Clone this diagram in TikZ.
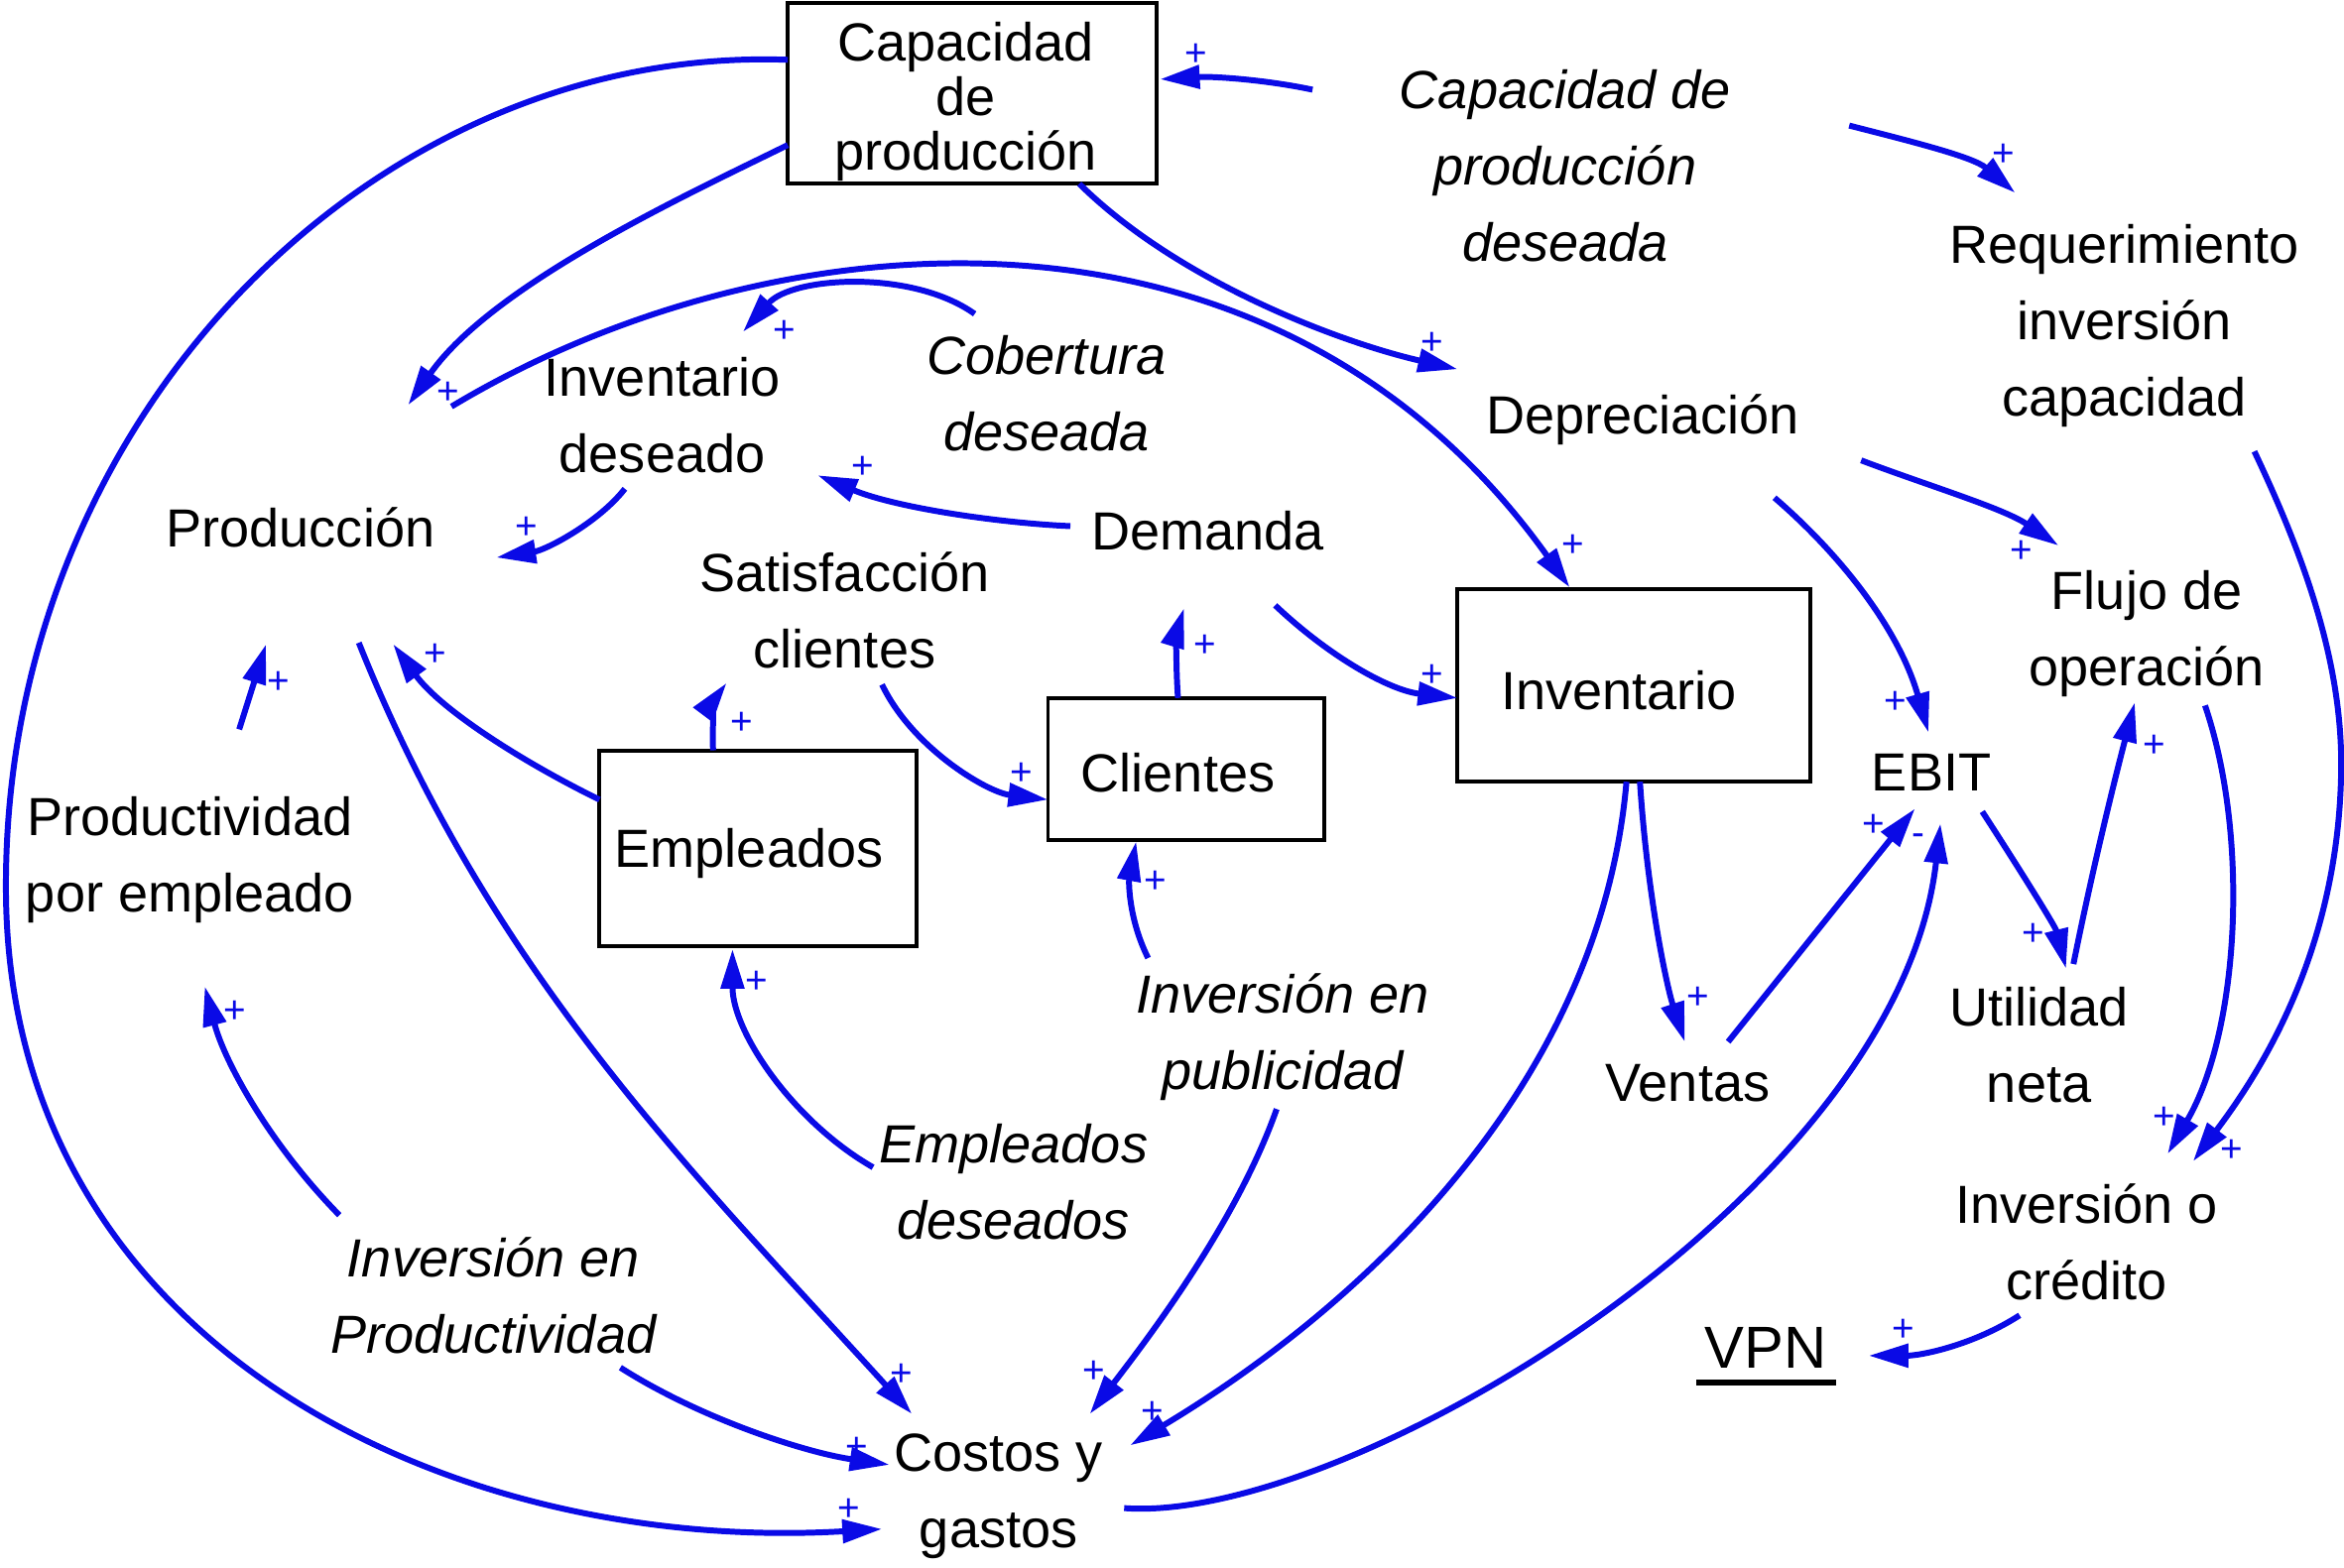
\documentclass[tikz,border=0pt]{standalone}
\usepackage{fontspec}
\setmainfont{Liberation Sans}
\usetikzlibrary{arrows.meta}
\definecolor{lk}{RGB}{10,10,230}
\begin{document}
\begin{tikzpicture}[x=0.01507cm,y=-0.01507cm,
  lbl/.style={font=\fontsize{15.4}{21.9}\selectfont, align=center, inner sep=0pt},
  ilbl/.style={font=\fontsize{15.4}{21.9}\selectfont\itshape, align=center, inner sep=0pt},
  btxt/.style={font=\fontsize{15.4}{15.6}\selectfont, align=center, inner sep=0pt},
  stock/.style={draw, line width=1.1pt, inner sep=0pt},
  link/.style={draw=lk, line width=1.7pt, -{Triangle[length=0.40cm,width=0.23cm]}},
  pol/.style={text=lk, font=\fontsize{11}{11}\selectfont, inner sep=0pt},
]
\useasboundingbox (0,0) rectangle (1568,1049);
% stocks
\node[stock, minimum width=3.722cm, minimum height=1.823cm] (capbox) at (650.5,62.5) {};
\node[btxt] (captxt) at (646,68) {Capacidad\\de\\producción};
\node[stock, minimum width=3.557cm, minimum height=1.944cm] (invbox) at (1093,458.5) {};
\node[btxt] (invtxt) at (1083,462) {Inventario};
\node[stock, minimum width=2.788cm, minimum height=1.432cm] (clibox) at (793.5,514.5) {};
\node[btxt] (clitxt) at (788,517) {Clientes};
\node[stock, minimum width=3.195cm, minimum height=1.974cm] (empbox) at (507,567.5) {};
\node[btxt] (emptxt) at (501,571) {Empleados};
% variables
\node[ilbl] (capdes) at (1047,111) {Capacidad de\\producción\\deseada};
\node[lbl] (req) at (1421,218) {Requerimiento\\inversión\\capacidad};
\node[lbl] (dep) at (1099,281) {Depreciación};
\node[ilbl] (cob) at (700,263) {Cobertura\\deseada};
\node[lbl] (invdes) at (443,278) {Inventario\\deseado};
\node[lbl] (prod) at (201,353) {Producción};
\node[lbl] (dem) at (808,355) {Demanda};
\node[lbl] (sat) at (565,408) {Satisfacción\\clientes};
\node[lbl] (flujo) at (1436,424) {Flujo de\\operación};
\node[lbl] (ebit) at (1292,517) {EBIT};
\node[lbl] (product) at (127,575) {Productividad\\por empleado};
\node[lbl] (util) at (1364,699) {Utilidad\\neta};
\node[ilbl] (invpub) at (858,694) {Inversión en\\publicidad};
\node[lbl] (ventas) at (1129,725) {Ventas};
\node[ilbl] (empdes) at (678,791) {Empleados\\deseados};
\node[lbl] (invcred) at (1396,831) {Inversión o\\crédito};
\node[ilbl] (invprod) at (330,867) {Inversión en\\Productividad};
\node[lbl] (costos) at (668,1001) {Costos y\\gastos};
\node[lbl, font=\fontsize{17}{20}\selectfont] (vpn) at (1181,902) {VPN};
\draw[line width=1.8pt] ([shift={(-46,23)}]vpn.center) -- ([shift={(47,23)}]vpn.center);
% links
\draw[link] ([shift={(-123.5,-22.5)}]capbox.center) .. controls (250,30) and (0,280) .. (4,600) .. controls (8,900) and (300,1040) .. ([shift={(-78,22)}]costos.center);
\draw[link] ([shift={(-123.5,34.5)}]capbox.center) .. controls (460,130) and (330,190) .. ([shift={(72,-82)}]prod.center);
\draw[link] ([shift={(101,-81)}]prod.center) .. controls (513,145) and (850,113) .. ([shift={(-43,-65.5)}]invbox.center);
\draw[link] ([shift={(71.5,60.5)}]capbox.center) .. controls (790,190) and (900,230) .. ([shift={(-124,-34)}]dep.center);
\draw[link] ([shift={(-169,-51)}]capdes.center) .. controls (845,53) and (810,51) .. ([shift={(125.5,-9.5)}]capbox.center);
\draw[link] ([shift={(190,-27)}]capdes.center) .. controls (1280,95) and (1320,105) .. ([shift={(-73,-89)}]req.center);
\draw[link] ([shift={(-48,-53)}]cob.center) .. controls (610,180) and (530,185) .. ([shift={(54,-56)}]invdes.center);
\draw[link] ([shift={(-92,-3)}]dem.center) .. controls (670,350) and (600,340) .. ([shift={(104,40)}]invdes.center);
\draw[link] ([shift={(-25,49)}]invdes.center) .. controls (400,350) and (365,368) .. ([shift={(131,20)}]prod.center);
\draw[link] ([shift={(146,27)}]dep.center) .. controls (1290,325) and (1340,340) .. ([shift={(-59,-59)}]flujo.center);
\draw[link] ([shift={(88,52)}]dep.center) .. controls (1230,370) and (1270,420) .. ([shift={(-2,-27)}]ebit.center);
\draw[link] ([shift={(87,84)}]req.center) .. controls (1545,380) and (1568,450) .. (1566,520) .. controls (1563,640) and (1510,720) .. ([shift={(71,-54)}]invcred.center);
\draw[link] ([shift={(39,48)}]flujo.center) .. controls (1505,560) and (1498,690) .. ([shift={(54,-59)}]invcred.center);
\draw[link] ([shift={(45,50)}]dem.center) .. controls (890,440) and (930,462) .. ([shift={(-118,8.5)}]invbox.center);
\draw[link] ([shift={(-5.5,-47.5)}]clibox.center) .. controls (786,440) and (788,420) .. ([shift={(-16,52)}]dem.center);
\draw[link] ([shift={(25,50)}]sat.center) .. controls (610,500) and (660,530) .. ([shift={(-92.5,20.5)}]clibox.center);
\draw[link] ([shift={(-30,-65.5)}]empbox.center) .. controls (476,480) and (480,465) .. ([shift={(-79,49)}]sat.center);
\draw[link] ([shift={(-106,-32.5)}]empbox.center) .. controls (350,510) and (295,475) .. ([shift={(62,78)}]prod.center);
\draw[link] ([shift={(33,-87)}]product.center) -- ([shift={(-23,78)}]prod.center);
\draw[link] ([shift={(39,77)}]prod.center) .. controls (328,650) and (460,781) .. ([shift={(-58,-55)}]costos.center);
\draw[link] ([shift={(-103,-54)}]invprod.center) .. controls (180,765) and (150,710) .. ([shift={(10,85)}]product.center);
\draw[link] ([shift={(85,48)}]invprod.center) .. controls (470,950) and (540,972) .. ([shift={(-73,-21)}]costos.center);
\draw[link] ([shift={(-94,-10)}]empdes.center) .. controls (530,750) and (490,690) .. ([shift={(-17,67.5)}]empbox.center);
\draw[link] ([shift={(-90,-53)}]invpub.center) .. controls (755,615) and (755,590) .. ([shift={(-33.5,48.5)}]clibox.center);
\draw[link] ([shift={(-4,48)}]invpub.center) .. controls (830,810) and (780,880) .. ([shift={(61,-55)}]costos.center);
\draw[link] ([shift={(-5,64.5)}]invbox.center) .. controls (1070,730) and (906,877) .. ([shift={(88,-34)}]costos.center);
\draw[link] ([shift={(4,64.5)}]invbox.center) .. controls (1102,600) and (1115,660) .. ([shift={(-2,-28)}]ventas.center);
\draw[link] ([shift={(27,-28)}]ventas.center) -- ([shift={(-11,24)}]ebit.center);
\draw[link] ([shift={(84,8)}]costos.center) .. controls (900,1020) and (1270,800) .. ([shift={(6,34)}]ebit.center);
\draw[link] ([shift={(34,26)}]ebit.center) .. controls (1350,580) and (1375,620) .. ([shift={(18,-51)}]util.center);
\draw[link] ([shift={(23,-54)}]util.center) .. controls (1400,580) and (1415,520) .. ([shift={(-8,46)}]flujo.center);
\draw[link] ([shift={(-45,49)}]invcred.center) .. controls (1320,900) and (1285,907) .. ([shift={(69,5)}]vpn.center);
% polarities
\node[pol] (p1) at (568,1010) {+};
\node[pol] (p2) at (300,263) {+};
\node[pol] (p3) at (1052,365) {+};
\node[pol] (p4) at (958,230) {+};
\node[pol] (p5) at (800,37) {+};
\node[pol] (p6) at (1340,104) {+};
\node[pol] (p7) at (525,222) {+};
\node[pol] (p8) at (577,313) {+};
\node[pol] (p9) at (352,353) {+};
\node[pol] (p10) at (1352,369) {+};
\node[pol] (p11) at (1268,470) {+};
\node[pol] (p12) at (1493,770) {+};
\node[pol] (p13) at (1448,748) {+};
\node[pol] (p14) at (958,452) {+};
\node[pol] (p15) at (806,432) {+};
\node[pol] (p16) at (683,518) {+};
\node[pol] (p17) at (496,484) {+};
\node[pol] (p18) at (291,438) {+};
\node[pol] (p19) at (186,457) {+};
\node[pol] (p20) at (603,920) {+};
\node[pol] (p21) at (157,677) {+};
\node[pol] (p22) at (573,969) {+};
\node[pol] (p23) at (506,657) {+};
\node[pol] (p24) at (773,590) {+};
\node[pol] (p25) at (732,918) {+};
\node[pol] (p26) at (771,945) {+};
\node[pol] (p27) at (1136,668) {+};
\node[pol] (p28) at (1253,552) {+};
\node[pol] (m29) at (1283,562) {-};
\node[pol] (p30) at (1360,625) {+};
\node[pol] (p31) at (1441,499) {+};
\node[pol] (p32) at (1273,890) {+};
\end{tikzpicture}
\end{document}
